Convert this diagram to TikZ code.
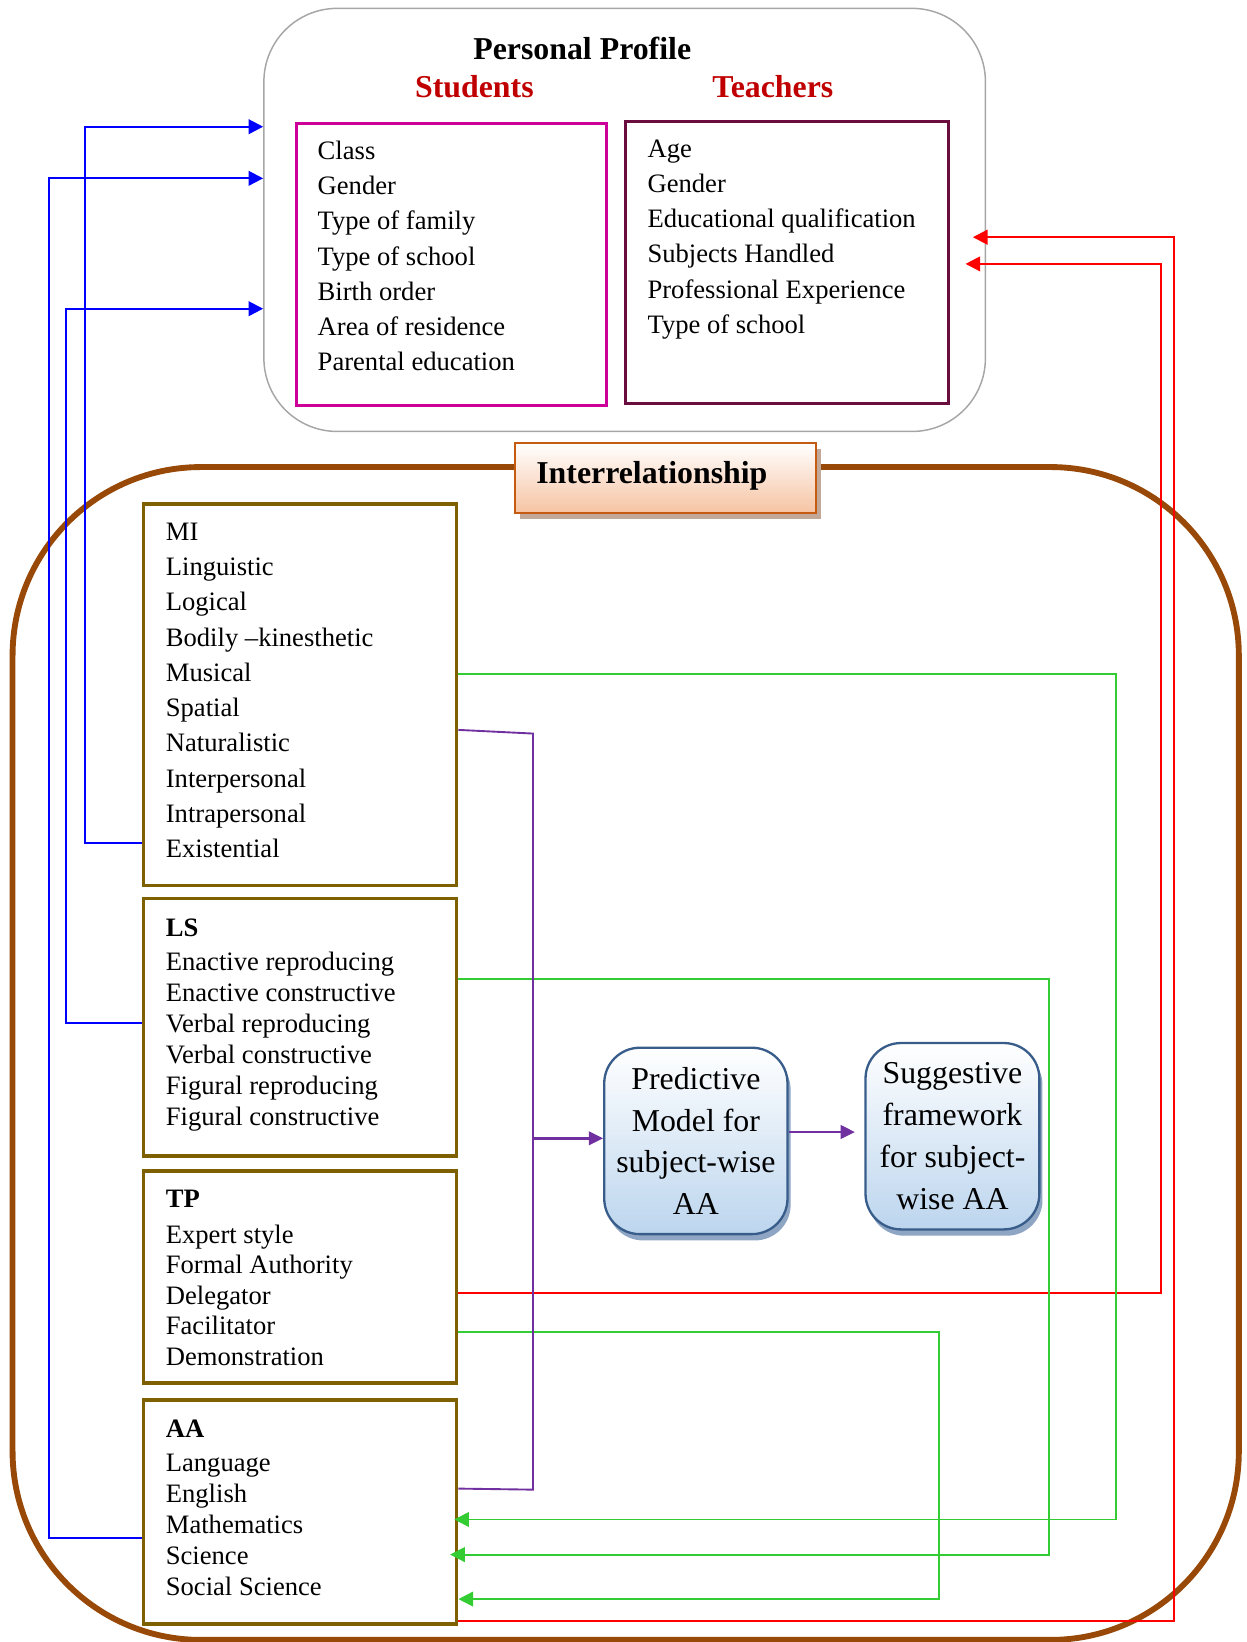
\documentclass[tikz,border=0pt]{standalone}
\usepackage{fontspec}
\setmainfont{Liberation Serif}
\usetikzlibrary{arrows.meta,shadows}
\definecolor{cblue}{HTML}{0000FF}
\definecolor{cred}{HTML}{FF0000}
\definecolor{cgreen}{HTML}{33CC33}
\definecolor{cpurple}{HTML}{7030A0}
\definecolor{cbrown}{HTML}{984807}
\definecolor{colive}{HTML}{7F6000}
\definecolor{cmag}{HTML}{CC0099}
\definecolor{cmaroon}{HTML}{6B0D3F}
\definecolor{chead}{HTML}{C00000}
\definecolor{cgray}{HTML}{A6A6A6}
\definecolor{corange}{HTML}{C55A11}
\definecolor{cpeach}{HTML}{F6C3A2}
\definecolor{cshadowb}{HTML}{C2A898}
\definecolor{cnavy}{HTML}{385D8A}
\definecolor{clightblue}{HTML}{BCD5EE}
\definecolor{cshadowblue}{HTML}{8EA6C4}
\begin{document}
\begin{tikzpicture}[x=0.5pt,y=-0.5pt,
  bodytxt/.style={anchor=base west,inner sep=0pt,font=\fontsize{12.7pt}{15pt}\selectfont},
  boldtxt/.style={bodytxt,font=\fontsize{12.7pt}{15pt}\selectfont\bfseries},
  headtxt/.style={anchor=base,inner sep=0pt,font=\fontsize{15.2pt}{18pt}\selectfont\bfseries},
  catbox/.style={draw=colive,line width=1.8pt,minimum width=149.5pt,inner sep=0pt},
  tipA/.tip={Triangle[length=7pt,width=7pt]},
  bl/.style={draw=cblue,line width=1pt,-tipA},
  rd/.style={draw=cred,line width=1pt,-tipA},
  gr/.style={draw=cgreen,line width=0.9pt,-tipA},
  pu/.style={draw=cpurple,line width=0.9pt},
  puarrow/.style={draw=cpurple,line width=1.3pt,-{Triangle[length=6.8pt,width=6.4pt]}},
  modelbox/.style={draw=cnavy,line width=1.1pt,rounded corners=17pt,top color=white,bottom color=clightblue,
    minimum height=89pt,inner sep=0pt,align=center,font=\fontsize{15.2pt}{19.95pt}\selectfont,
    drop shadow={shadow xshift=1.5pt,shadow yshift=-3pt,fill=cshadowblue,opacity=1}}
]
\useasboundingbox (0,0) rectangle (1190,1568);

% ---------- Personal profile ----------
\node[draw=cgray,line width=0.7pt,rounded corners=35pt,minimum width=344.5pt,minimum height=202pt,inner sep=0pt] (pp) at (596.5,210) {};
\node[headtxt] (pptitle) at (556,57) {Personal Profile};
\node[headtxt,text=chead] (stu) at (453,93) {Students};
\node[headtxt,text=chead] (tea) at (738,93) {Teachers};

\node[draw=cmag,line width=1.2pt,minimum width=148pt,minimum height=134.5pt,inner sep=0pt] (stubox) at (431,252.5) {};
\node[draw=cmaroon,line width=1.3pt,minimum width=154.5pt,minimum height=134.5pt,inner sep=0pt] (teabox) at (751.5,250.5) {};

\foreach \t [count=\i from 0] in {Class,Gender,Type of family,Type of school,Birth order,Area of residence,Parental education}
  \node[bodytxt] (stu-\i) at (303,{152+\i*33.7}) {\t};
\foreach \t [count=\i from 0] in {Age,Gender,Educational qualification,Subjects Handled,Professional Experience,Type of school}
  \node[bodytxt] (tea-\i) at (618,{150+\i*33.7}) {\t};

% ---------- Interrelationship frame ----------
\node[draw=cbrown,line width=2.8pt,rounded corners=90pt,minimum width=585.5pt,minimum height=560pt,inner sep=0pt] (ir) at (597.5,1006) {};
\node[draw=corange,line width=1pt,top color=white,bottom color=cpeach,minimum width=143.5pt,minimum height=33.5pt,inner sep=0pt,
  drop shadow={shadow xshift=2.5pt,shadow yshift=-3pt,fill=cshadowb,opacity=1}] (irlabel) at (635.5,456.5) {};
\node[headtxt] (irtext) at (622.5,462) {Interrelationship};

% ---------- category boxes ----------
\node[catbox,minimum height=182pt] (mi) at (286.5,663.5) {};
\node[catbox,minimum height=123pt] (ls) at (286.5,981) {};
\node[catbox,minimum height=101.5pt] (tp) at (286.5,1219.5) {};
\node[catbox,minimum height=107pt] (aa) at (286.5,1444) {};

\foreach \t [count=\i from 0] in {MI,Linguistic,Logical,Bodily –kinesthetic,Musical,Spatial,Naturalistic,Interpersonal,Intrapersonal,Existential}
  \node[bodytxt] (mi-\i) at (158,{516+\i*33.67}) {\t};

\node[boldtxt] (ls-h) at (158,894) {LS};
\foreach \t [count=\i from 0] in {Enactive reproducing,Enactive constructive,Verbal reproducing,Verbal constructive,Figural reproducing,Figural constructive}
  \node[bodytxt] (ls-\i) at (158,{927+\i*29.6}) {\t};

\node[boldtxt] (tp-h) at (158,1153) {TP};
\foreach \t [count=\i from 0] in {Expert style,Formal Authority,Delegator,Facilitator,Demonstration}
  \node[bodytxt] (tp-\i) at (158,{1187+\i*29.17}) {\t};

\node[boldtxt] (aa-h) at (158,1372.7) {AA};
\foreach \t [count=\i from 0] in {Language,English,Mathematics,Science,Social Science}
  \node[bodytxt] (aa-\i) at (158,{1405.6+\i*29.6}) {\t};

% ---------- model boxes ----------
\node[modelbox,minimum width=87.5pt] (pred) at (664.5,1089.5) {Predictive\\Model for\\subject-wise\\AA};
\node[modelbox,minimum width=83pt] (sugg) at (909.5,1085) {Suggestive\\framework\\for subject-\\wise AA};

% ---------- coordinates ----------
\coordinate (rtip1) at (922,252);
\coordinate (rtip2) at (929,226.5);
\coordinate (pj) at (509,1087);

% ---------- blue connectors ----------
\draw[bl] (mi.west |- 0,805) -- (81,805) |- (pp.west |- 0,121);
\draw[bl] (aa.west |- 0,1469) -- (47,1469) |- (pp.west |- 0,170.3);
\draw[bl] (ls.west |- 0,977) -- (63,977) |- (pp.west |- 0,294.8);

% ---------- red connectors ----------
\draw[rd] (tp.east |- 0,1235) -- (1109,1235) |- (rtip1);
\draw[rd] (aa.east |- 0,1548) -- (1121.5,1548) |- (rtip2);

% ---------- green connectors ----------
\draw[gr] (mi.east |- 0,643.5) -- (1066,643.5) |- ([xshift=-2pt]aa.east |- 0,1451);
\draw[gr] (ls.east |- 0,935) -- (1002,935) |- ([xshift=-4pt]aa.east |- 0,1484.5);
\draw[gr] (tp.east |- 0,1272) -- (897,1272) |- (aa.east |- 0,1527);

% ---------- purple connectors ----------
\draw[pu] (mi.east |- 0,697) -- (509,700.5) -- (509,1422.5) -- (aa.east |- 0,1421.5);
\draw[puarrow] (pj) -- (pred.west |- pj);
\draw[puarrow,shorten >=4.5pt] (pred.east |- 0,1081) -- (sugg.west |- 0,1081);
\end{tikzpicture}
\end{document}
